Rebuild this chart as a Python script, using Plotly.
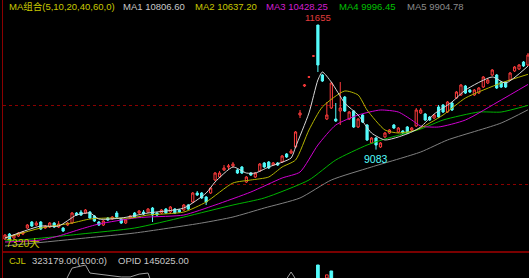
import plotly.graph_objects as go

# ---------------- data ----------------
opens = [7238,7341,7259,7300,7341,7465,7589,7527,7589,7465,7486,7568,7486,7465,7527,7568,7775,7795,7775,7795,
         7713,7589,7527,7671,7651,7775,7651,7568,7671,7775,7775,7795,7795,7878,7775,7775,7857,7795,7857,7837,
         7837,7940,8002,8187,8187,8105,8187,8456,8518,8663,8724,8745,8663,8724,8415,8600,8518,8642,8807,8827,
         8765,8807,8827,8993,9013,9137,9797,10396,10582,11015,11655,10623,9715,9942,9715,9880,10169,9715,9880,9550,
         9797,9591,9220,9323,9137,9344,9426,9591,9447,9467,9550,9488,9570,9839,9818,9756,9735,9963,10004,9859,
         10045,10148,10210,10396,10313,10210,10251,10375,10458,10623,10623,10478,10478,10520,10706,10747,10891,10829]
highs = [7341,7362,7341,7382,7403,7548,7609,7609,7609,7527,7589,7589,7609,7486,7589,7795,7795,7837,7857,7816,
         7733,7609,7630,7692,7713,7816,7671,7651,7733,7795,7837,7837,7878,7899,7795,7857,7878,7919,7878,7857,
         7961,7961,8208,8229,8208,8126,8311,8621,8642,8765,8786,8827,8683,8745,8538,8621,8621,8807,8827,8848,
         8827,8827,8972,9013,9096,9467,9901,10437,10602,11036,11655,10644,10066,10478,10045,10478,10190,9880,9901,9735,
         9818,9612,9344,9344,9240,9447,9508,9612,9550,9488,9570,9550,9942,9942,9839,9777,9818,10004,10024,10086,
         10066,10293,10437,10417,10334,10334,10375,10602,10561,10747,10644,10499,10499,10685,10809,10850,10912,11077]
lows = [7217,7197,7238,7279,7320,7444,7486,7506,7424,7444,7465,7465,7465,7382,7506,7548,7713,7713,7754,7651,
        7589,7506,7506,7609,7630,7671,7548,7548,7651,7671,7754,7733,7775,7589,7713,7754,7754,7775,7754,7775,
        7816,7837,7981,8126,8064,7940,8167,8435,8497,8642,8683,8724,8580,8580,8394,8538,8497,8621,8704,8683,
        8745,8745,8807,8910,8993,9117,9735,10375,10561,10995,10685,10478,9694,9921,9653,9591,9859,9694,9529,9529,
        9632,9261,9199,9083,9117,9323,9405,9508,9426,9405,9405,9467,9550,9818,9674,9674,9715,9735,9839,9839,
        9880,10128,10190,10231,10251,10190,10231,10355,10437,10602,10334,10355,10355,10499,10685,10726,10788,10809]
closes = [7320,7217,7320,7362,7382,7527,7506,7568,7444,7506,7568,7486,7548,7403,7568,7775,7733,7733,7837,7671,
          7609,7527,7609,7630,7692,7692,7568,7630,7713,7692,7816,7754,7857,7733,7733,7837,7775,7899,7775,7795,
          7940,7857,8187,8146,8085,8002,8291,8600,8600,8704,8745,8786,8600,8600,8518,8559,8600,8786,8724,8704,
          8807,8765,8951,8931,9054,9447,9839,10417,10582,11015,10829,10499,9797,10458,9674,9942,9880,9859,9550,9715,
          9653,9282,9323,9178,9220,9426,9488,9529,9529,9426,9426,9529,9901,9901,9694,9694,9797,9756,9859,10066,
          9901,10272,10417,10251,10272,10313,10355,10582,10520,10726,10355,10375,10375,10664,10788,10829,10809,11036]

ma5_idx = [0,5,8,12,16,19,21,26,32,40,45,47,51,54,56,59,64,65,68,70,71,73,76,79,82,85,88,91,93,96,100,103,109,112,117]
ma5_val = [7259,7424,7506,7506,7733,7775,7651,7671,7775,7878,8187,8415,8724,8600,8600,8724,8910,9137,9839,10520,
           10685,10478,10045,9797,9426,9282,9344,9447,9550,9818,10066,10313,10582,10458,10806.60]
ma10_idx = [0,8,15,19,23,28,32,40,45,51,55,59,62,65,68,71,76,79,81,85,88,92,98,103,111,117]
ma10_val = [7259,7465,7568,7651,7671,7671,7733,7795,8002,8394,8456,8518,8724,8869,9488,9963,10293,10210,9901,9488,
            9426,9488,9797,10148,10458,10637.20]
ma20_idx = [0,8,12,17,21,29,32,40,47,55,62,66,70,74,79,84,88,91,93,97,103,111,117]
ma20_val = [7176,7217,7300,7444,7548,7671,7692,7733,7940,8208,8497,8621,9178,9591,9797,9901,9859,9694,9570,9550,
            9694,10107,10428.25]
ma40_idx = [0,6,17,29,40,51,58,68,74,81,85,93,98,106,111,117]
ma40_val = [7197,7238,7341,7465,7692,7940,8085,8456,8869,9178,9302,9508,9694,9859,9859,9996.45]
ma60_idx = [0,18,29,44,51,58,66,73,82,93,99,111,117]
ma60_val = [7094,7259,7362,7568,7692,7878,8085,8456,8724,9034,9282,9632,9904.78]

grid_levels = [8373, 10004]
high_idx, high_val = 70, 11655
low_idx, low_val = 83, 9083

# lower panel (volume / open interest)
oi_idx = [0, 13, 14, 15, 16, 18, 19, 21, 23, 26, 28, 30, 32, 33, 62, 64, 66, 117]
oi_val = [-40, -30, 4, 38, 42, 50, 19, 15, 12, 4, 4, 15, 19, -30, -30, 23, -30, -40]
vol_idx = [70, 72, 73]
vol_val = [50, 12, 27]
vol_up = [False, True, False]

legend_items = [("MA组合(5,10,20,40,60,0)", "#c8c800", 7),
                ("MA1 10806.60", "#c8c8c8", 121),
                ("MA2 10637.20", "#c8c800", 193),
                ("MA3 10428.25", "#d21ed2", 264),
                ("MA4 9996.45", "#00c000", 337),
                ("MA5 9904.78", "#8c8c8c", 405)]

RED = "#ff3c3c"
CYAN = "#54fcfc"
W, H = 529, 278
FONT = "Liberation Sans, Arial, Noto Sans CJK SC, sans-serif"
FS = 9.5

fig = go.Figure()
n = len(opens)
fig.add_trace(go.Candlestick(
    x=list(range(n)), open=opens, high=highs, low=lows, close=closes,
    increasing=dict(line=dict(color=RED, width=1), fillcolor="#000000"),
    decreasing=dict(line=dict(color=CYAN, width=1), fillcolor=CYAN),
    whiskerwidth=0, showlegend=False, hoverinfo="skip"))

for idx, val, col in [(ma60_idx, ma60_val, "#808080"), (ma40_idx, ma40_val, "#00b400"),
                      (ma20_idx, ma20_val, "#d000d0"), (ma10_idx, ma10_val, "#b4b400"),
                      (ma5_idx, ma5_val, "#d8d8d8")]:
    fig.add_trace(go.Scatter(x=idx, y=val, mode="lines", line=dict(color=col, width=1, shape="spline", smoothing=0.6),
                             showlegend=False, hoverinfo="skip"))

fig.add_trace(go.Scatter(x=oi_idx, y=oi_val, mode="lines", line=dict(color="#a0a0a0", width=1),
                         yaxis="y2", showlegend=False, hoverinfo="skip"))
fig.add_trace(go.Bar(x=vol_idx, y=vol_val, yaxis="y2", width=0.6,
                     marker=dict(color=["#000000" if u else CYAN for u in vol_up],
                                 line=dict(color=[RED if u else CYAN for u in vol_up], width=1)),
                     showlegend=False, hoverinfo="skip"))

split = 26 / H
fig.update_layout(
    width=W, height=H, margin=dict(l=3, r=0, t=0, b=0),
    paper_bgcolor="#000000", plot_bgcolor="#000000",
    xaxis=dict(range=[-2 / 4.47, 524 / 4.47], showgrid=False, zeroline=False, showticklabels=False,
               rangeslider=dict(visible=False), fixedrange=True),
    yaxis=dict(domain=[split, 1], range=[6970, 12171], tickvals=grid_levels, showticklabels=False,
               showgrid=True, gridcolor="#8b0000", griddash="dot", gridwidth=1, zeroline=False,
               showline=True, linecolor="#8b0000", linewidth=1),
    yaxis2=dict(domain=[0, split], range=[0, 100], showgrid=False, showticklabels=False, zeroline=False,
                showline=True, linecolor="#8b0000", linewidth=1),
    bargap=0.3,
)

fig.add_shape(type="line", xref="paper", yref="paper", x0=0, x1=1, y0=split, y1=split,
              line=dict(color="#7a0000", width=2))

for text, col, px in legend_items:
    fig.add_annotation(xref="paper", yref="paper", x=(px - 3) / (W - 3), y=1, xanchor="left", yanchor="top",
                       text=text, showarrow=False, font=dict(color=col, size=FS, family=FONT), yshift=1)

fig.add_annotation(x=high_idx, y=high_val, text=str(high_val), showarrow=False, yanchor="bottom",
                   font=dict(color="#e03c3c", size=FS, family=FONT), yshift=0)
fig.add_annotation(x=low_idx, y=low_val, text=str(low_val), showarrow=False, yanchor="top",
                   font=dict(color=CYAN, size=FS + 1, family=FONT), yshift=-1)
fig.add_annotation(xref="paper", yref="paper", x=0.002, y=split + 0.003, xanchor="left", yanchor="bottom",
                   text="7320大", showarrow=False, font=dict(color="#c8c800", size=FS + 1, family=FONT))

fig.add_annotation(xref="paper", yref="paper", x=(7 - 3) / (W - 3), y=split - 0.002, xanchor="left", yanchor="top",
                   text="CJL", showarrow=False, font=dict(color="#c8c800", size=FS, family=FONT))
fig.add_annotation(xref="paper", yref="paper", x=(30 - 3) / (W - 3), y=split - 0.002, xanchor="left", yanchor="top",
                   text="323179.00(100:0)", showarrow=False, font=dict(color="#c8c8c8", size=FS, family=FONT))
fig.add_annotation(xref="paper", yref="paper", x=(116 - 3) / (W - 3), y=split - 0.002, xanchor="left", yanchor="top",
                   text="OPID 145025.00", showarrow=False, font=dict(color="#c8c8c8", size=FS, family=FONT))

fig.write_html("out.html")
